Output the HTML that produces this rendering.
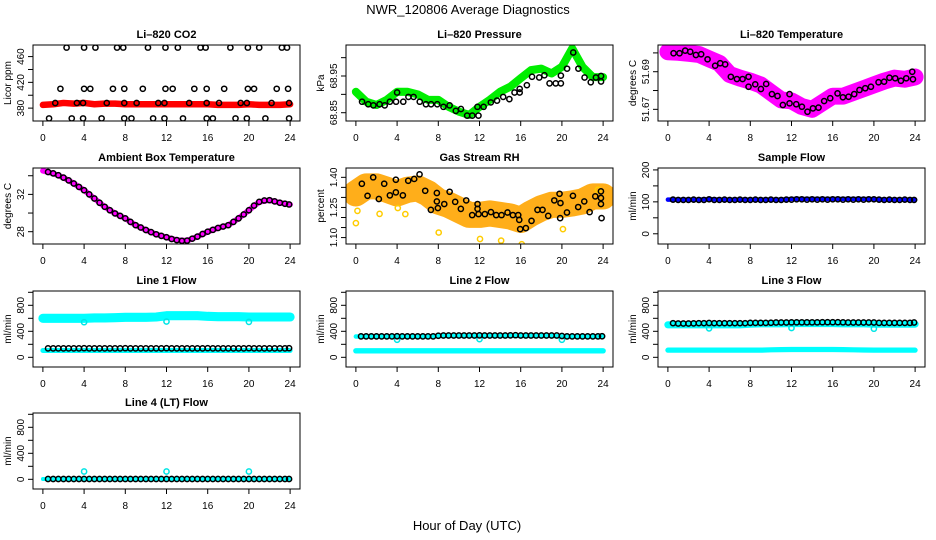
<!DOCTYPE html>
<html><head><meta charset="utf-8"><style>
html,body{margin:0;padding:0;background:#fff;}
svg{display:block;font-family:"Liberation Sans",Arial,sans-serif;}
</style></head><body>
<svg id="chart" width="936" height="540" viewBox="0 0 936 540"></svg>
<script>
// ---------- data ----------
const bandHours = [0,1,2,3,4,5,6,7,8,9,10,11,12,13,14,15,16,17,18,19,20,21,22,23,24];
const halfHours = [0.5,1,1.5,2,2.5,3,3.5,4,4.5,5,5.5,6,6.5,7,7.5,8,8.5,9,9.5,10,10.5,11,11.5,12,12.5,13,13.5,14,14.5,15,15.5,16,16.5,17,17.5,18,18.5,19,19.5,20,20.5,21,21.5,22,22.5,23,23.5,23.9];
const xTicks = [0,4,8,12,16,20,24];

const co2Band = [385,386,388,387,388,386,387,387,386,386,386,386,386,386,386,386,386,385,385,385,386,385,385,385,386];
const co2DotHours = [2.3,4.0,5.1,7.2,7.8,10.2,11.9,13.1,15.3,15.8,18.2,19.9,21.0,23.2,23.7, 1.7,4.0,4.6,6.8,7.9,9.7,11.9,12.6,14.7,15.9,17.6,19.9,20.5,22.7,23.8, 1.2,3.3,3.9,6.2,7.9,9.1,11.2,11.8,14.2,15.9,17.1,19.2,19.8,22.2,23.9, 0.6,2.8,3.9,5.7,7.9,8.6,10.7,11.8,13.6,15.9,16.5,18.7,19.8,21.6,23.9];
const co2DotVals = [474,474,474,474,474,474,474,474,474,474,474,474,474,474,474, 410,410,410,410,410,410,410,410,410,410,410,410,410,410,410, 388,388,388,388,388,388,388,388,388,388,388,388,388,388,388, 364,364,364,364,364,364,364,364,364,364,364,364,364,364,364];

const presBand = [68.907,68.88,68.871,68.885,68.907,68.907,68.90,68.885,68.885,68.866,68.853,68.844,68.866,68.885,68.907,68.921,68.944,68.966,68.97,68.957,68.975,69.025,68.975,68.947,68.947];
const presDotHours = [0.6,1.2,1.7,2.3,2.8,3.3,3.9,4.0,4.6,5.1,5.6,6.2,6.8,7.3,7.9,8.5,9.1,9.7,10.2,10.8,11.3,11.9,11.8,12.4,13.1,13.7,14.3,14.9,15.4,15.9,15.9,16.6,17.1,17.8,18.3,18.8,19.4,19.9,19.9,20.5,21.1,21.6,22.2,22.8,23.3,23.8,23.8];
const presDotVals = [68.880,68.873,68.870,68.873,68.870,68.880,68.880,68.905,68.880,68.893,68.893,68.880,68.873,68.873,68.873,68.866,68.870,68.855,68.860,68.842,68.842,68.842,68.866,68.866,68.878,68.883,68.893,68.887,68.905,68.915,68.905,68.925,68.948,68.946,68.952,68.930,68.930,68.930,68.951,68.970,69.014,68.970,68.946,68.933,68.946,68.935,68.950];

const tempBand = [51.7006,51.7003,51.6998,51.6992,51.6968,51.6945,51.6885,51.6866,51.685,51.683,51.679,51.675,51.6745,51.6715,51.6700,51.6735,51.677,51.677,51.679,51.681,51.683,51.685,51.6866,51.686,51.6872];
const tempDotHours = [0.55,1.13,1.68,2.17,2.72,3.23,3.85,4.59,5.08,5.56,6.11,6.7,7.25,7.83,7.83,8.48,9.03,9.54,10.1,10.64,11.16,11.81,11.81,12.46,13.01,13.55,14.08,14.62,15.17,15.76,16.47,16.99,17.54,18.09,18.6,19.16,19.71,20.45,20.99,21.51,22.07,22.62,23.14,23.72,23.79];
const tempDotVals = [51.6998,51.6998,51.7012,51.7006,51.6989,51.6993,51.6966,51.6932,51.6945,51.6939,51.6873,51.6861,51.6861,51.6873,51.682,51.6833,51.6808,51.6835,51.6781,51.6771,51.6723,51.6781,51.6732,51.6727,51.6714,51.6687,51.6705,51.6709,51.6744,51.6759,51.6785,51.6764,51.6767,51.6781,51.6803,51.6812,51.682,51.6844,51.6847,51.6868,51.6865,51.6852,51.6865,51.69,51.686];

const ambBand = [34.53,34.25,33.8,33.17,32.45,31.56,30.67,29.96,29.43,28.7,28.18,27.72,27.4,27.1,27.04,27.47,28,28.4,28.7,29.43,30.3,31.2,31.38,31.1,30.92];
const ambDotVals = [34.4,34.25,34.05,33.8,33.5,33.17,32.8,32.45,32.0,31.56,31.1,30.67,30.3,29.96,29.7,29.43,29.05,28.7,28.45,28.18,27.95,27.72,27.55,27.4,27.22,27.1,27.02,27.04,27.25,27.47,27.75,28.0,28.2,28.4,28.55,28.7,29.05,29.43,29.85,30.3,30.8,31.2,31.35,31.38,31.25,31.1,31.0,30.92];

const rhBand = [1.32,1.355,1.355,1.338,1.32,1.338,1.345,1.32,1.28,1.263,1.238,1.213,1.213,1.22,1.213,1.205,1.188,1.22,1.246,1.263,1.263,1.27,1.28,1.305,1.305];
const rhOutHours = [0.0,0.15,2.3,4.07,4.8,8.04,12.05,14.1,16.1,20.1,23.5];
const rhOutVals = [1.172,1.233,1.218,1.247,1.217,1.125,1.093,1.085,1.067,1.142,1.338];
const rhDotHours = [0.58,1.13,1.68,2.23,2.75,3.3,3.88,3.88,4.56,5.08,5.66,6.18,6.73,7.28,7.86,7.86,7.96,8.58,9.1,9.64,10.19,10.71,11.29,11.81,11.81,11.91,12.52,13.11,13.62,14.14,14.72,15.24,15.76,15.86,15.95,16.5,17.05,17.63,18.12,18.67,19.26,19.77,19.83,19.86,20.49,21.07,21.58,22.17,22.69,23.24,23.79,23.79,23.79,23.85];
const rhDotVals = [1.368,1.308,1.400,1.292,1.368,1.31,1.325,1.388,1.31,1.383,1.392,1.415,1.333,1.238,1.322,1.28,1.247,1.267,1.328,1.278,1.243,1.285,1.212,1.267,1.243,1.217,1.217,1.227,1.212,1.212,1.225,1.212,1.212,1.188,1.142,1.147,1.183,1.238,1.238,1.208,1.285,1.318,1.197,1.272,1.225,1.308,1.252,1.28,1.227,1.305,1.33,1.297,1.267,1.197];

const sampleBand = [107,107,107,107,108,107,107,107,107,107,107,107,109,109,109,109,109,109,109,109,108,107,107,107,107];
const sampleDotVals = [107,106,106,106,107,106,106,108,106,106,107,106,106,107,106,106,107,106,106,107,106,106,107,107,108,108,107,108,107,108,107,108,108,107,108,107,108,107,108,108,107,106,107,106,106,107,106,106];

const line1Upper = [600,600,600,600,600,605,605,610,615,615,615,620,640,640,640,640,630,625,625,625,620,620,620,620,620];
const line1Lower = [105,105,105,105,105,105,105,105,105,105,105,105,105,105,105,105,105,105,105,105,105,105,105,105,105];
const line1Dots = [138,138,138,138,138,138,138,140,138,138,138,138,138,138,138,140,138,138,138,138,138,138,138,140,138,138,138,138,138,138,138,140,138,138,138,138,138,138,138,140,138,138,138,138,138,138,138,140];
const outHours = [4,12,20];
const line1Out = [540,550,545];

const line2Upper = [320,320,320,320,320,320,320,320,330,330,330,330,330,330,330,330,330,330,330,330,320,320,320,320,320];
const line2Lower = [100,100,100,100,100,100,100,100,100,100,100,100,100,100,100,100,100,100,100,100,100,100,100,100,100];
const line2Dots = [322,322,322,322,322,322,322,324,322,322,322,322,322,322,322,332,335,335,335,335,335,335,335,338,335,335,335,335,335,338,340,335,335,335,335,335,335,335,335,328,322,322,322,322,322,322,322,324];
const line2Out = [270,280,270];

const line3Upper = [500,500,500,500,500,500,500,500,510,515,515,515,520,520,520,520,520,515,515,515,510,510,510,510,510];
const line3Lower = [110,110,110,110,110,110,110,110,110,110,115,118,120,120,120,120,120,118,115,112,110,110,110,110,110];
const line3Dots = [525,520,520,520,522,525,525,528,525,525,525,525,525,525,525,530,530,530,530,532,535,535,535,538,538,538,538,538,538,540,540,540,540,538,535,535,535,535,535,535,530,530,530,530,530,530,530,535];
const line3Out = [445,450,440];

const line4Band = [5,5,5,5,5,5,5,5,5,5,5,5,5,5,5,5,5,5,5,5,5,5,5,5,5];
const line4Dots = [5,5,5,5,5,5,5,5,5,5,5,5,5,5,5,5,5,5,5,5,5,5,5,5,5,5,5,5,5,5,5,5,5,5,5,5,5,5,5,5,5,5,5,5,5,5,5,5];
const line4Out = [120,120,120];

// ---------- layout ----------
const NS = "http://www.w3.org/2000/svg";
const svg = document.getElementById('chart');
const colLeft = [33, 346, 658];
const rowTop = [45, 168, 291, 413];
const boxW = 267, boxH = 76;
const xDomain = [-0.96, 24.96];

function mk(tag, attrs, parent) {
  const el = document.createElementNS(NS, tag);
  for (const k in attrs) el.setAttribute(k, attrs[k]);
  (parent || svg).appendChild(el);
  return el;
}
function txt(content, attrs, parent) {
  const el = mk('text', attrs, parent);
  el.textContent = content;
  return el;
}

function panel(opts) {
  const L = colLeft[opts.col], T = rowTop[opts.row];
  const g = mk('g', {});
  
  
  const xs = h => L + (h - xDomain[0]) / (xDomain[1] - xDomain[0]) * boxW;
  const ys = v => T + boxH - (v - opts.yDomain[0]) / (opts.yDomain[1] - opts.yDomain[0]) * boxH;
  const pxPerUnit = boxH / (opts.yDomain[1] - opts.yDomain[0]);

  const t = txt(opts.title, {x: L + boxW / 2, y: T - 7, 'text-anchor': 'middle', 'font-size': 11, 'font-weight': 'bold'}, g);
  
  

  const yl = txt(opts.ylab, {x: 0, y: 0, 'text-anchor': 'middle', 'font-size': 10, transform: `translate(${L - 22},${T + boxH / 2}) rotate(-90)`}, g);
  
  

  const ya = mk('g', {}, g);
  
  
  const yt = opts.yTicks;
  mk('line', {x1: L, x2: L, y1: ys(yt[0]), y2: ys(yt[yt.length - 1]), stroke: '#000', 'stroke-width': 1}, ya);
  yt.forEach(v => {
    mk('line', {x1: L - 5, x2: L, y1: ys(v), y2: ys(v), stroke: '#000', 'stroke-width': 1}, ya);
    const li = opts.yLabels.indexOf(v);
    if (li >= 0) {
      const lt = txt(opts.yLabelText[li], {x: 0, y: 0, 'text-anchor': 'middle', 'font-size': 10, transform: `translate(${L - 9},${ys(v)}) rotate(-90)`}, ya);
      
      
    }
  });
  const xa = mk('g', {}, g);
  
  
  mk('line', {x1: xs(0), x2: xs(24), y1: T + boxH, y2: T + boxH, stroke: '#000'}, xa);
  xTicks.forEach(h => {
    mk('line', {x1: xs(h), x2: xs(h), y1: T + boxH, y2: T + boxH + 5, stroke: '#000'}, xa);
    const lt = txt(String(h), {x: xs(h), y: T + boxH + 20, 'text-anchor': 'middle', 'font-size': 10}, xa);
    
    
  });

  const clip = mk('clipPath', {id: 'clip-' + opts.name}, g);
  mk('rect', {x: L, y: T, width: boxW, height: boxH}, clip);
  const plot = mk('g', {'clip-path': `url(#clip-${opts.name})`}, g);

  (opts.bands || []).forEach(b => {
    const pts = b.hours.map((h, i) => xs(h) + ',' + ys(b.vals[i])).join(' ');
    const pl = mk('polyline', {points: pts, fill: 'none', stroke: b.color, 'stroke-width': Math.max(3, 2 * b.half * pxPerUnit), 'stroke-linejoin': 'round', 'stroke-linecap': 'round'}, plot);
    
    
  });
  (opts.dots || []).forEach(d => {
    const dg = mk('g', {}, plot);
    
    
    d.hours.forEach((h, i) => {
      const c = mk('circle', {cx: xs(h), cy: ys(d.vals[i]), r: 2.6, fill: 'none', stroke: d.color, 'stroke-width': 1.5}, dg);
      
      
    });
  });
  const box = mk('rect', {x: L, y: T, width: boxW, height: boxH, fill: 'none', stroke: '#000', 'stroke-width': 1}, g);
  
  
}

const tm = txt('NWR_120806  Average Diagnostics', {x: 468, y: 14, 'text-anchor': 'middle', 'font-size': 13});


const xl = txt('Hour of Day (UTC)', {x: 467, y: 530, 'text-anchor': 'middle', 'font-size': 13});



const flowTicks = [0,200,400,600,800,1000], flowLabels = [0,400,800], flowLabelText = ['0','400','800'], flowDomain = [-149,1020];

panel({name: 'co2', col: 0, row: 0, title: 'Li\u2013820 CO2', ylab: 'Licor ppm', yDomain: [360,478], yTicks: [380,400,420,440,460], yLabels: [380,420,460], yLabelText: ['380','420','460'],
  bands: [{name: 'co2-band', hours: bandHours, vals: co2Band, half: 5, color: '#ff0000'}],
  dots: [{name: 'co2-average', hours: co2DotHours, vals: co2DotVals, color: '#000'}]});
panel({name: 'pressure', col: 1, row: 0, title: 'Li\u2013820 Pressure', ylab: 'kPa', yDomain: [68.8274,69.0345], yTicks: [68.85,68.9,68.95,69.0], yLabels: [68.85,68.95], yLabelText: ['68.85','68.95'],
  bands: [{name: 'pressure-band', hours: bandHours, vals: presBand, half: 0.011, color: '#00ee00'}],
  dots: [{name: 'pressure-average', hours: presDotHours, vals: presDotVals, color: '#000'}]});
panel({name: 'temperature', col: 2, row: 0, title: 'Li\u2013820 Temperature', ylab: 'degrees C', yDomain: [51.6638,51.7042], yTicks: [51.67,51.68,51.69,51.70], yLabels: [51.67,51.69], yLabelText: ['51.67','51.69'],
  bands: [{name: 'temperature-band', hours: bandHours, vals: tempBand, half: 0.0045, color: '#ff00ff'}],
  dots: [{name: 'temperature-average', hours: tempDotHours, vals: tempDotVals, color: '#000'}]});
panel({name: 'ambient', col: 0, row: 1, title: 'Ambient Box Temperature', ylab: 'degrees C', yDomain: [26.68,34.83], yTicks: [28,30,32,34], yLabels: [28,32], yLabelText: ['28','32'],
  bands: [{name: 'ambient-band', hours: bandHours, vals: ambBand, half: 0.3, color: '#ff00ff'}],
  dots: [{name: 'ambient-average', hours: halfHours, vals: ambDotVals, color: '#000'}]});
panel({name: 'rh', col: 1, row: 1, title: 'Gas Stream RH', ylab: 'percent', yDomain: [1.068,1.4465], yTicks: [1.10,1.15,1.20,1.25,1.30,1.35,1.40], yLabels: [1.10,1.25,1.40], yLabelText: ['1.10','1.25','1.40'],
  bands: [{name: 'rh-band', hours: bandHours, vals: rhBand, half: 0.065, color: '#ffae1a'}],
  dots: [{name: 'rh-outliers', hours: rhOutHours, vals: rhOutVals, color: '#ffcc00'}, {name: 'rh-average', hours: rhDotHours, vals: rhDotVals, color: '#000'}]});
panel({name: 'sample-flow', col: 2, row: 1, title: 'Sample Flow', ylab: 'ml/min', yDomain: [-32,206], yTicks: [0,50,100,150,200], yLabels: [0,100,200], yLabelText: ['0','100','200'],
  bands: [{name: 'sample-flow-band', hours: bandHours, vals: sampleBand, half: 7, color: '#0000ff'}],
  dots: [{name: 'sample-flow-average', hours: halfHours, vals: sampleDotVals, color: '#000'}]});
panel({name: 'line1', col: 0, row: 2, title: 'Line 1 Flow', ylab: 'ml/min', yDomain: flowDomain, yTicks: flowTicks, yLabels: flowLabels, yLabelText: flowLabelText,
  bands: [{name: 'line1-upper-band', hours: bandHours, vals: line1Upper, half: 70, color: '#00ffff'}, {name: 'line1-lower-band', hours: bandHours, vals: line1Lower, half: 38, color: '#00ffff'}],
  dots: [{name: 'line1-outliers', hours: outHours, vals: line1Out, color: '#00e5e5'}, {name: 'line1-average', hours: halfHours, vals: line1Dots, color: '#000'}]});
panel({name: 'line2', col: 1, row: 2, title: 'Line 2 Flow', ylab: 'ml/min', yDomain: flowDomain, yTicks: flowTicks, yLabels: flowLabels, yLabelText: flowLabelText,
  bands: [{name: 'line2-upper-band', hours: bandHours, vals: line2Upper, half: 35, color: '#00ffff'}, {name: 'line2-lower-band', hours: bandHours, vals: line2Lower, half: 42, color: '#00ffff'}],
  dots: [{name: 'line2-outliers', hours: outHours, vals: line2Out, color: '#00e5e5'}, {name: 'line2-average', hours: halfHours, vals: line2Dots, color: '#000'}]});
panel({name: 'line3', col: 2, row: 2, title: 'Line 3 Flow', ylab: 'ml/min', yDomain: flowDomain, yTicks: flowTicks, yLabels: flowLabels, yLabelText: flowLabelText,
  bands: [{name: 'line3-upper-band', hours: bandHours, vals: line3Upper, half: 55, color: '#00ffff'}, {name: 'line3-lower-band', hours: bandHours, vals: line3Lower, half: 40, color: '#00ffff'}],
  dots: [{name: 'line3-outliers', hours: outHours, vals: line3Out, color: '#00e5e5'}, {name: 'line3-average', hours: halfHours, vals: line3Dots, color: '#000'}]});
panel({name: 'line4', col: 0, row: 3, title: 'Line 4 (LT) Flow', ylab: 'ml/min', yDomain: flowDomain, yTicks: flowTicks, yLabels: flowLabels, yLabelText: flowLabelText,
  bands: [{name: 'line4-band', hours: bandHours, vals: line4Band, half: 30, color: '#00ffff'}],
  dots: [{name: 'line4-outliers', hours: outHours, vals: line4Out, color: '#00e5e5'}, {name: 'line4-average', hours: halfHours, vals: line4Dots, color: '#000'}]});
</script>
</body></html>
